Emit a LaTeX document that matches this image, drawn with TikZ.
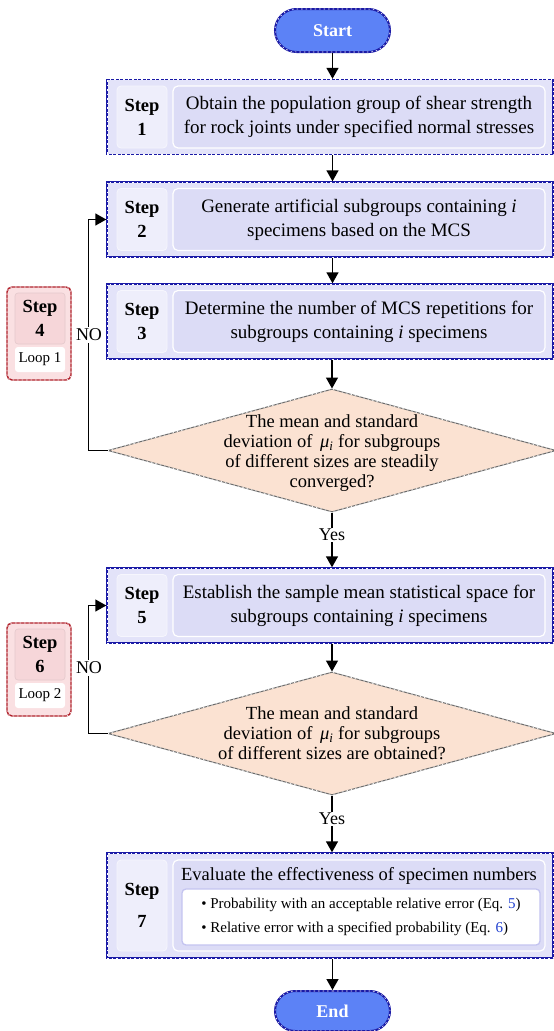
\documentclass[tikz,border=0pt]{standalone}
\usepackage{fontspec}
\setmainfont{Liberation Serif}
\usetikzlibrary{shapes.geometric,shapes.misc,arrows.meta}
\definecolor{navyb}{HTML}{1A1AA6}
\definecolor{outerfill}{HTML}{E3E3F9}
\definecolor{labfill}{HTML}{EEEEFB}
\definecolor{txtfill}{HTML}{DCDCF6}
\definecolor{pillfill}{HTML}{5C82F6}
\definecolor{peach}{HTML}{FBE2D2}
\definecolor{redb}{HTML}{B0202A}
\definecolor{pinkfill}{HTML}{FAE0E2}
\definecolor{pinkin}{HTML}{F6D6D9}
\definecolor{eqblue}{HTML}{1F3FD0}
\definecolor{bulborder}{HTML}{C4C4F0}
\tikzset{
  base/.style={font=\fontsize{19}{24}\selectfont, align=center, inner sep=0pt},
  whitedash/.style={postaction={draw=white, line width=0.6pt, dash pattern=on 1.5pt off 3pt}},
  pill/.style={base, rounded rectangle, draw=navyb, line width=2pt, fill=pillfill,
    minimum width=115, minimum height=43, text=white, font=\fontsize{18}{24}\selectfont\bfseries, whitedash},
  outerbox/.style={base, draw=navyb, line width=1.4pt, fill=outerfill, minimum width=446, minimum height=75, whitedash},
  labbox/.style={base, draw=white!50!labfill, line width=0.8pt, fill=labfill, rounded corners=4pt,
    minimum width=50, minimum height=62, font=\fontsize{18.5}{24}\selectfont\bfseries},
  txtbox/.style={base, draw=white, line width=1.2pt, fill=txtfill, rounded corners=5pt, minimum width=372, minimum height=62},
  decision/.style={base, diamond, draw=gray!85!black, line width=1pt, fill=peach, minimum width=448, minimum height=123, whitedash},
  dtext/.style={base, font=\fontsize{18.5}{20}\selectfont},
  bulbox/.style={base, align=left, draw=bulborder, line width=1.3pt, fill=white, rounded corners=4pt,
    minimum width=358, minimum height=56, font=\fontsize{15}{24}\selectfont},
  redouter/.style={base, draw=redb, line width=1.4pt, fill=pinkfill, rounded corners=5pt, minimum width=64, minimum height=93, whitedash},
  redin/.style={base, draw=pinkin!85!gray, line width=0.6pt, fill=pinkin, rounded corners=3pt, minimum width=50, minimum height=51,
    font=\fontsize{18.5}{24}\selectfont\bfseries},
  redloop/.style={base, fill=white, rounded corners=3pt, minimum width=50, minimum height=25, font=\fontsize{15}{16}\selectfont},
  arr/.style={line width=1.4pt, -{Triangle[width=12pt,length=11pt]}},
  lab/.style={base, fill=white, inner sep=1.5pt, font=\fontsize{18}{20}\selectfont},
}
\begin{document}
\begin{tikzpicture}[x=1pt,y=-1pt]
\useasboundingbox (0,0) rectangle (554,1031);
\fill[white] (0,0) rectangle (554,1031);

\node[pill] (start) at (332.5,30.5) {Start};

% Step 1
\node[outerbox] (s1) at (330,117) {};
\node[labbox] (s1l) at (142,117) {Step\\1};
\node[txtbox] (s1t) at (359,117) {Obtain the population group of shear strength\\for rock joints under specified normal stresses};

% Step 2
\node[outerbox] (s2) at (330,219.5) {};
\node[labbox] (s2l) at (142,219.5) {Step\\2};
\node[txtbox] (s2t) at (359,219.5) {Generate artificial subgroups containing \textit{i}\\specimens based on the MCS};

% Step 3
\node[outerbox] (s3) at (330,321.5) {};
\node[labbox] (s3l) at (142,321.5) {Step\\3};
\node[txtbox] (s3t) at (359,321.5) {Determine the number of MCS repetitions for\\subgroups containing \textit{i} specimens};

% Decision 1
\node[decision] (d1) at (332,450.5) {};
\node[dtext] (d1t) at (332,453) {The mean and standard\\deviation of \,\textit{μ}\textsubscript{\textit{i}} for subgroups\\of different sizes are steadily\\converged?};

% Step 5
\node[outerbox] (s5) at (330,605.5) {};
\node[labbox] (s5l) at (142,605.5) {Step\\5};
\node[txtbox] (s5t) at (359,605.5) {Establish the sample mean statistical space for\\subgroups containing \textit{i} specimens};

% Decision 2
\node[decision] (d2) at (332,733.5) {};
\node[dtext] (d2t) at (332,733.5) {The mean and standard\\deviation of \,\textit{μ}\textsubscript{\textit{i}} for subgroups\\of different sizes are obtained?};

% Step 7
\node[outerbox, minimum height=105] (s7) at (330,905.5) {};
\node[labbox, minimum height=91] (s7l) at (142,905.5) {Step\\[8pt]7};
\node[txtbox, minimum height=91] (s7t) at (359,905.5) {};
\node[base, font=\fontsize{18.5}{24}\selectfont] (s7h) at (359,876) {Evaluate the effectiveness of specimen numbers};
\node[bulbox] (s7b) at (361,917) {\textbullet\ Probability with an acceptable relative error (Eq. \textcolor{eqblue}{5})\\\textbullet\ Relative error with a specified probability (Eq. \textcolor{eqblue}{6})};

\node[pill, minimum height=40] (end) at (332.5,1011) {End};

% Loop boxes
\node[redouter] (st4) at (39,333.5) {};
\node[redin] (st4a) at (40,318.5) {Step\\4};
\node[redloop] (st4b) at (40,359.5) {Loop 1};
\node[redouter] (st6) at (39,669.5) {};
\node[redin] (st6a) at (40,654.5) {Step\\6};
\node[redloop] (st6b) at (40,695.5) {Loop 2};

% Connectors
\draw[arr] (start.south) -- (start.south |- s1.north);
\draw[arr] (s1.south -| start.south) -- (s2.north -| start.south);
\draw[arr] (s2.south -| start.south) -- (s3.north -| start.south);
\draw[arr] (s3.south -| d1.north) -- (d1.north);
\draw[arr] (d1.south) -- (d1.south |- s5.north);
\draw[arr] (s5.south -| d2.north) -- (d2.north);
\draw[arr] (d2.south) -- (d2.south |- s7.north);
\draw[arr] (s7.south -| start.south) -- (end.north);
\draw[arr] (d1.west) -- ++(-19,0) |- (s2.west);
\draw[arr] (d2.west) -- ++(-19,0) |- (s5.west);

\node[lab] (yes1) at (332,535) {Yes};
\node[lab] (yes2) at (332,819) {Yes};
\node[lab] (no1) at (89,335) {NO};
\node[lab] (no2) at (89,668) {NO};
\end{tikzpicture}
\end{document}
